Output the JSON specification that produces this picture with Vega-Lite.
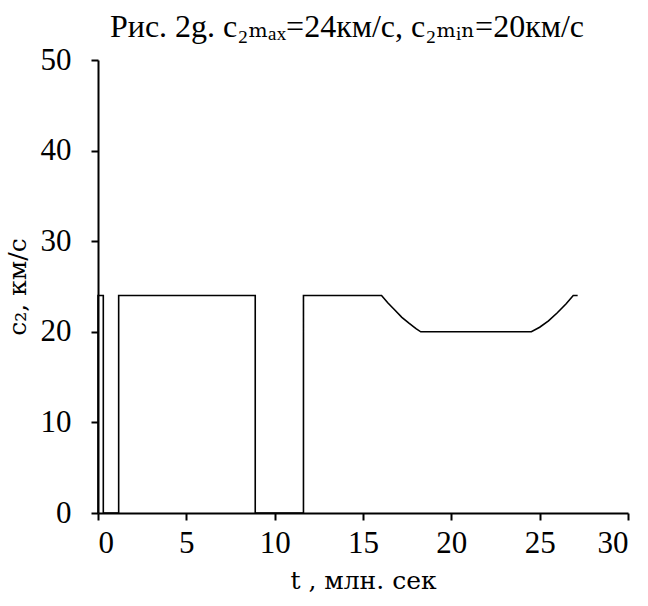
{
  "$schema": "https://vega.github.io/schema/vega-lite/v6.json",
  "width": 530,
  "height": 453,
  "autosize": "none",
  "padding": {"left": 98, "top": 60, "right": 20, "bottom": 93},
  "background": "white",
  "title": {
    "text": "Рис. 2g. c₂ₘₐₓ=24км/с, c₂ₘᵢₙ=20км/с",
    "font": "Liberation Serif, DejaVu Serif, serif",
    "fontSize": 32,
    "fontWeight": "normal",
    "color": "black",
    "anchor": "middle",
    "dx": -16,
    "offset": 0
  },
  "config": {
    "view": {"stroke": null},
    "axis": {
      "grid": false,
      "domainColor": "black",
      "domainWidth": 2,
      "tickColor": "black",
      "tickWidth": 2,
      "tickSize": 7,
      "labelFont": "Liberation Serif, DejaVu Serif, serif",
      "labelFontSize": 31,
      "labelColor": "black",
      "titleFont": "DejaVu Serif",
      "titleFontSize": 25,
      "titleFontWeight": "normal",
      "titleColor": "black"
    }
  },
  "data": {
    "values": [
      {"t": 0, "c": 0},
      {"t": 0, "c": 24},
      {"t": 0.3, "c": 24},
      {"t": 0.3, "c": 0},
      {"t": 1.17, "c": 0},
      {"t": 1.17, "c": 24},
      {"t": 8.9, "c": 24},
      {"t": 8.9, "c": 0},
      {"t": 11.63, "c": 0},
      {"t": 11.63, "c": 24},
      {"t": 16.05, "c": 24},
      {"t": 16.4, "c": 23.2},
      {"t": 16.8, "c": 22.4},
      {"t": 17.2, "c": 21.6},
      {"t": 17.6, "c": 20.95},
      {"t": 18.0, "c": 20.35},
      {"t": 18.27, "c": 20.0},
      {"t": 24.53, "c": 20.0},
      {"t": 25.0, "c": 20.5},
      {"t": 25.5, "c": 21.2},
      {"t": 26.0, "c": 22.1},
      {"t": 26.5, "c": 23.1},
      {"t": 26.9, "c": 24.0},
      {"t": 27.15, "c": 24.0}
    ]
  },
  "mark": {"type": "line", "color": "black", "strokeWidth": 1.6},
  "encoding": {
    "order": {"value": 0},
    "x": {
      "field": "t",
      "type": "quantitative",
      "scale": {"domain": [0, 30], "nice": false},
      "axis": {"values": [0, 5, 10, 15, 20, 25, 30], "title": "t , млн. сек", "titlePadding": 10, "labelPadding": 8}
    },
    "y": {
      "field": "c",
      "type": "quantitative",
      "scale": {"domain": [0, 50], "nice": false},
      "axis": {"values": [0, 10, 20, 30, 40, 50], "title": "c₂, км/с", "titlePadding": 10, "labelPadding": 20}
    }
  }
}
